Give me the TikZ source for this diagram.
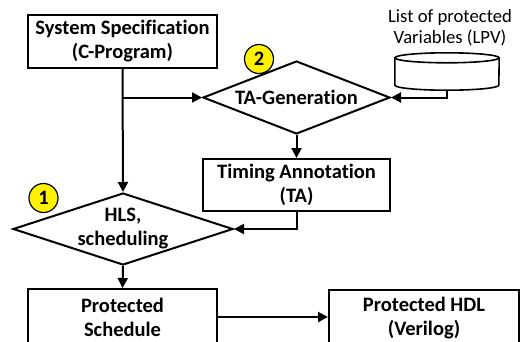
\documentclass[tikz,border=0pt]{standalone}
\usepackage{fontspec}
\setmainfont{Carlito}[Ligatures=NoCommon]
\usetikzlibrary{shapes.geometric,arrows.meta}

\begin{document}
\begin{tikzpicture}[
  x=1pt, y=-1pt,
  % Global line and text styling
  every node/.style={font=\fontsize{20.5}{24}\selectfont\bfseries, align=center, inner sep=0pt},
  flow/.style={line width=2pt, -{Triangle[length=10pt,width=10pt]}},
  % Specific styles
  block/.style={draw, line width=2pt, minimum width=189pt, minimum height=53pt},
  decision/.style={draw, line width=2pt, diamond},
  store/.style={minimum width=104pt, minimum height=37pt},
  badge/.style={draw, line width=1.2pt, circle, fill=yellow, minimum size=29pt}
]
\useasboundingbox (0,0) rectangle (521,341);
\clip (0,0) rectangle (521,341);

% Boxes
\node[block] (spec) at (122.5,41.5) {System Specification\\(C-Program)};
\node[block, minimum width=187pt, minimum height=52pt] (ta) at (296.5,185) {Timing Annotation\\(TA)};
\node[block, minimum height=56pt] (sched) at (122.5,317) {Protected\\Schedule};
\node[block, minimum width=190pt, minimum height=56pt] (hdl) at (424,318) {Protected HDL\\(Verilog)};

% Decisions
\node[decision, aspect=2.5, minimum width=187pt, minimum height=73pt] (tagen) at (296.5,97.5) {TA-Generation};
\node[decision, aspect=3, minimum width=220pt, minimum height=72pt] (hls) at (123,229) {HLS,\\scheduling};

% Protected variables store (cylinder drawn round the node)
\node[store] (lpv) at (447,71.5) {};
\draw[line width=1.6pt] ([yshift=-5pt]lpv.north) ellipse [x radius=52pt, y radius=5pt];
\draw[line width=1.6pt] ([yshift=-5pt]lpv.north west) -- ([yshift=5pt]lpv.south west)
  arc[start angle=180, end angle=360, x radius=52pt, y radius=5pt] -- ([yshift=-5pt]lpv.north east);
\node[font=\fontsize{18.7}{21}\selectfont] (lpvlabel) at (450,28) {List of protected\\Variables (LPV)};

% Step numbers
\node[badge] (num2) at (259,59) {2};
\node[badge] (num1) at (43.5,198) {1};

% Connectors
\coordinate (split) at (spec.south |- tagen.west);
\draw[flow] (spec.south) -- (hls.north);
\draw[flow] (split) -- (tagen.west);
\draw[flow] (lpv.south) |- (tagen.east);
\draw[flow] (tagen.south) -- (ta.north);
\draw[flow] (ta.south) |- (hls.east);
\draw[flow] (hls.south) -- (sched.north);
\draw[flow] (sched.east) -- (sched.east -| hdl.west);

\end{tikzpicture}
\end{document}
